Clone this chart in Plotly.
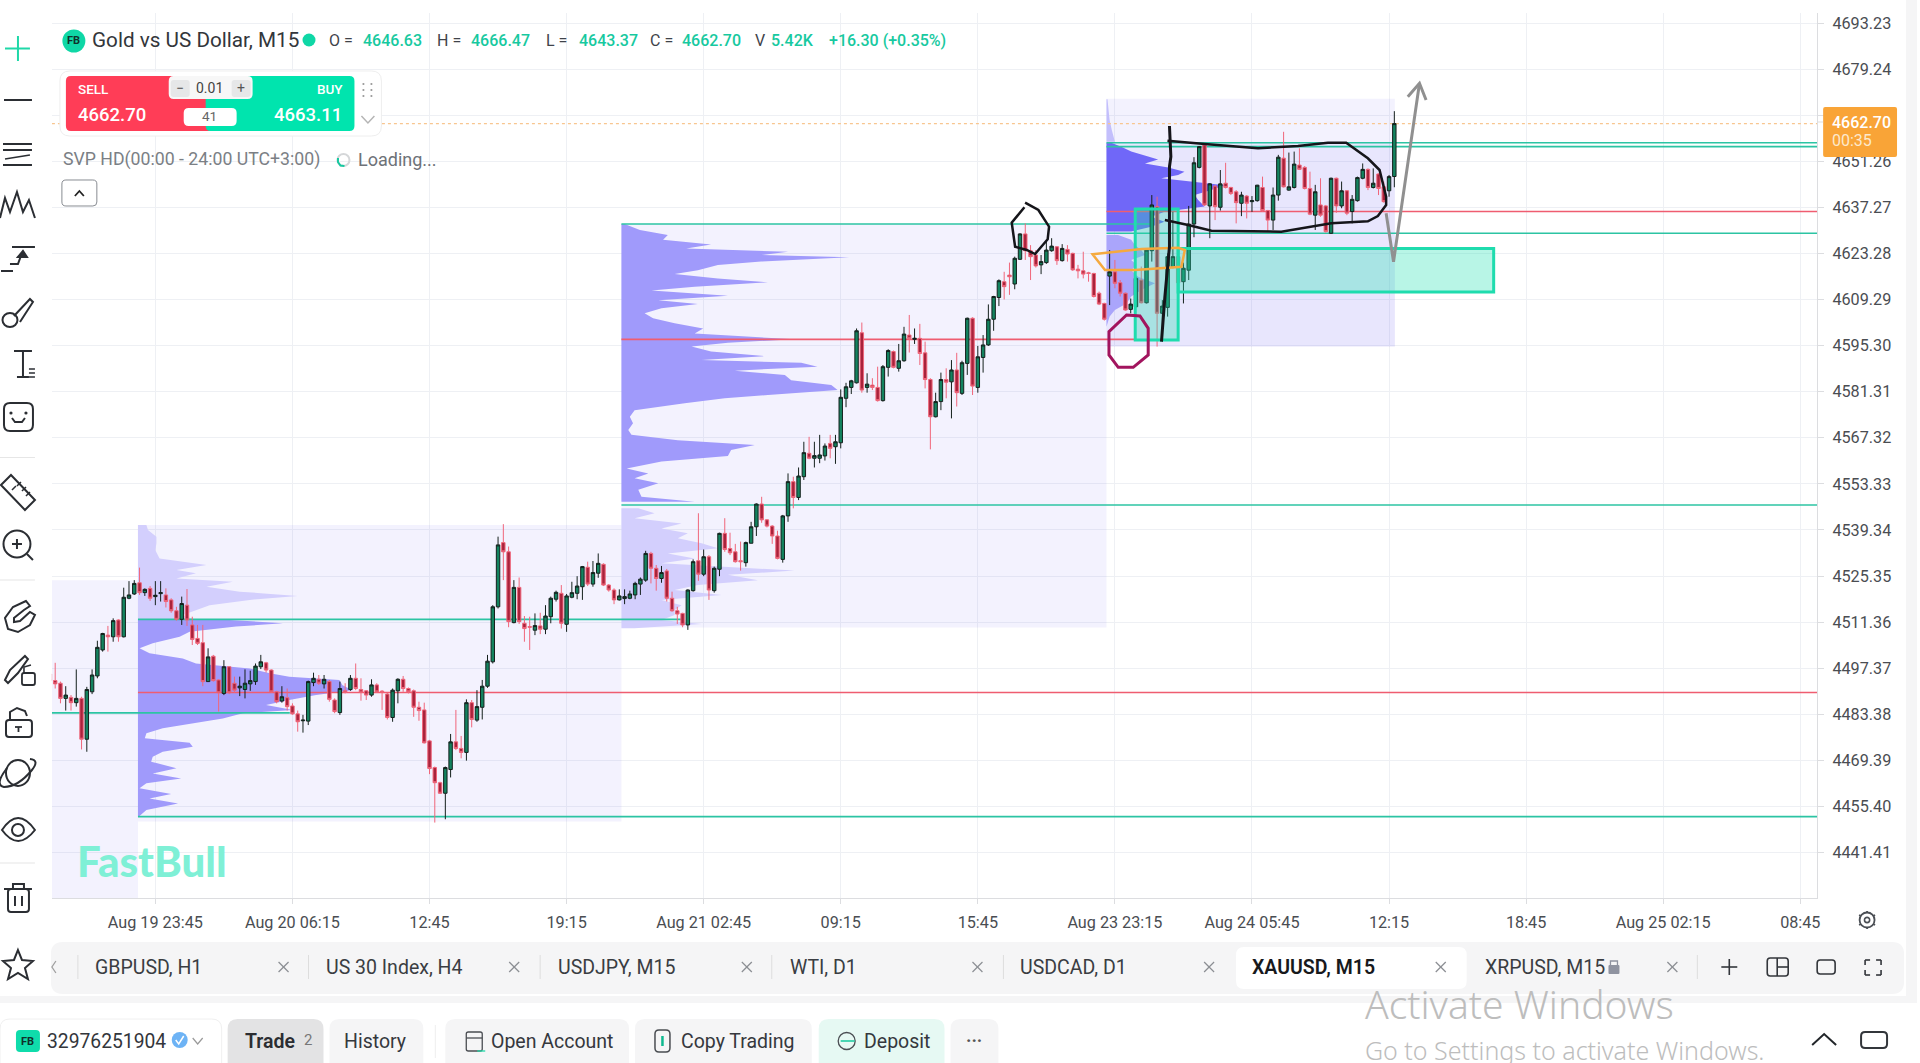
import plotly.graph_objects as go

W = 1920
H = 1063

# plot box in page pixels
PLOT_L, PLOT_R, PLOT_T, PLOT_B = 52, 1820, 13, 898

opens = [
    4495.6,4493.6,4492.8,4488.2,4488.5,4486.9,4488.2,4475.8,4490.2,4495.0,
    4502.9,4507.4,4506.9,4512.0,4506.9,4518.6,4519.9,4523.3,4520.3,4521.6,
    4519.1,4520.0,4519.6,4518.1,4514.8,4512.2,4516.5,4510.5,4506.4,4505.1,
    4493.3,4501.0,4493.8,4489.7,4497.8,4492.8,4491.4,4490.9,4492.6,4493.3,
    4497.8,4499.0,4496.8,4490.2,4487.4,4488.4,4485.9,4483.5,4481.4,4481.3,
    4493.0,4494.0,4492.6,4493.3,4487.7,4483.9,4490.5,4490.9,4494.3,4490.9,
    4490.5,4489.2,4492.3,4490.4,4489.5,4482.4,4490.5,4494.0,4491.2,4490.5,
    4485.5,4484.7,4475.3,4467.2,4462.6,4459.4,4466.6,4475.0,4473.0,4471.8,
    4486.9,4481.6,4485.5,4491.9,4499.3,4516.0,4535.5,4532.7,4511.2,4521.9,
    4511.0,4510.0,4508.9,4510.2,4509.2,4513.0,4518.3,4520.1,4510.7,4518.9,
    4520.1,4522.1,4528.0,4522.9,4526.2,4528.9,4522.6,4521.1,4518.1,4518.5,
    4518.6,4519.6,4522.9,4524.1,4532.2,4527.7,4524.6,4526.9,4518.6,4514.8,
    4514.0,4510.5,4520.9,4530.0,4525.9,4531.2,4520.9,4527.4,4538.3,4533.7,
    4532.7,4530.0,4529.4,4535.3,4540.3,4547.2,4542.4,4540.5,4537.5,4530.4,
    4543.6,4554.0,4549.2,4555.5,4562.6,4561.1,4561.1,4561.8,4565.6,4564.6,
    4565.8,4579.3,4582.6,4584.0,4599.2,4582.6,4583.3,4582.6,4578.6,4588.7,
    4593.5,4588.4,4590.7,4598.5,4597.2,4597.5,4593.1,4585.0,4573.7,4578.3,
    4585.0,4584.3,4587.9,4580.8,4589.9,4603.6,4582.6,4591.7,4595.5,4603.3,
    4609.9,4614.7,4616.7,4614.0,4621.5,4629.2,4624.1,4622.8,4619.8,4620.5,
    4624.1,4625.3,4621.1,4624.5,4623.3,4618.5,4618.0,4617.4,4617.2,4611.2,
    4608.1,4616.4,4617.7,4614.4,4611.2,4606.3,4607.1,4615.2,4608.3,4624.1,
    4637.5,4605.1,4606.9,4619.3,4622.3,4614.7,4618.2,4632.2,4649.4,4656.2,
    4637.7,4643.7,4637.3,4644.6,4643.3,4642.0,4638.5,4640.7,4639.0,4639.3,
    4643.3,4636.3,4633.4,4641.0,4652.2,4642.5,4643.3,4650.1,4649.4,4643.0,
    4634.9,4638.0,4637.7,4629.4,4646.1,4637.7,4642.3,4636.0,4639.3,4646.1,
    4648.8,4643.3,4647.4,4643.5,4642.3,4646.63,
]
highs = [
    4497.8,4499.0,4493.3,4491.9,4489.2,4497.0,4488.7,4491.7,4497.0,4505.7,
    4508.1,4510.2,4512.5,4512.2,4521.8,4523.8,4524.1,4527.9,4521.6,4522.3,
    4523.8,4523.8,4521.6,4518.6,4516.0,4519.1,4521.4,4513.0,4510.5,4510.5,
    4503.4,4501.4,4494.0,4499.8,4498.0,4494.8,4494.8,4497.0,4496.6,4498.8,
    4501.4,4499.3,4497.0,4490.5,4491.9,4491.2,4486.7,4484.5,4483.2,4493.6,
    4496.0,4495.3,4495.3,4493.8,4488.2,4493.3,4492.8,4495.3,4498.8,4494.3,
    4490.7,4494.0,4492.8,4490.7,4489.9,4491.2,4494.3,4495.0,4491.5,4490.9,
    4487.2,4486.9,4475.6,4467.5,4462.9,4467.5,4477.4,4484.7,4476.8,4487.9,
    4487.7,4490.7,4493.8,4501.4,4516.5,4537.3,4541.1,4534.3,4524.1,4524.9,
    4513.2,4513.0,4514.0,4514.2,4516.5,4519.1,4520.9,4522.6,4519.9,4523.6,
    4525.3,4528.4,4529.7,4529.9,4532.2,4529.2,4522.9,4521.6,4521.3,4521.3,
    4520.9,4523.6,4524.9,4533.0,4532.7,4528.7,4528.4,4527.5,4520.6,4516.0,
    4514.2,4521.3,4530.4,4544.4,4533.4,4531.7,4528.2,4538.5,4542.9,4538.5,
    4535.1,4535.8,4535.8,4541.8,4547.4,4549.4,4542.6,4540.8,4539.1,4543.9,
    4556.5,4555.5,4558.3,4566.1,4567.6,4566.1,4568.2,4565.6,4568.2,4568.2,
    4582.0,4584.0,4584.9,4600.5,4602.3,4586.9,4585.4,4588.9,4589.4,4594.2,
    4593.8,4595.8,4601.0,4604.6,4600.5,4601.9,4596.5,4585.4,4581.0,4587.1,
    4588.4,4590.9,4593.1,4590.7,4603.8,4603.9,4595.2,4598.5,4607.8,4610.4,
    4615.4,4617.7,4620.5,4622.3,4629.4,4632.4,4625.8,4624.3,4622.8,4626.8,
    4627.9,4625.5,4626.1,4625.8,4623.5,4619.8,4623.8,4617.7,4617.4,4611.7,
    4608.3,4624.3,4621.3,4615.2,4611.4,4609.6,4616.2,4619.3,4624.8,4641.0,
    4640.5,4609.1,4623.3,4635.9,4623.3,4620.5,4637.7,4652.5,4655.9,4656.7,
    4644.6,4644.0,4648.6,4650.8,4643.5,4642.5,4642.0,4641.0,4640.7,4644.1,
    4646.6,4636.5,4643.3,4653.2,4660.2,4653.9,4654.2,4655.2,4649.8,4648.1,
    4644.1,4646.1,4638.0,4646.3,4646.3,4645.1,4642.5,4641.0,4646.6,4650.6,
    4649.1,4649.1,4647.6,4645.1,4647.1,4666.47,
]
lows = [
    4493.3,4491.2,4486.7,4484.5,4484.5,4485.7,4472.7,4472.0,4489.5,4494.3,
    4502.4,4502.4,4505.4,4505.4,4506.7,4518.3,4519.6,4519.6,4519.3,4517.8,
    4516.5,4517.6,4515.8,4514.2,4511.8,4510.5,4510.2,4504.4,4504.4,4491.9,
    4493.3,4493.3,4484.2,4489.2,4489.5,4489.9,4488.9,4488.2,4490.5,4492.3,
    4497.1,4496.0,4489.9,4486.7,4486.9,4484.5,4483.2,4478.1,4477.8,4480.1,
    4491.9,4492.3,4491.2,4487.2,4483.7,4483.2,4489.7,4490.5,4490.7,4487.5,
    4487.7,4488.7,4489.9,4484.7,4481.8,4481.1,4486.7,4490.2,4489.7,4482.6,
    4481.4,4474.5,4465.2,4450.5,4459.2,4451.5,4464.2,4472.5,4470.0,4469.3,
    4479.4,4481.1,4481.8,4491.4,4498.8,4515.5,4524.1,4509.8,4511.0,4510.8,
    4505.4,4502.9,4507.4,4507.7,4507.7,4511.0,4517.6,4509.4,4508.4,4518.6,
    4518.3,4518.1,4522.3,4522.1,4524.8,4522.3,4520.6,4516.8,4517.9,4516.8,
    4518.3,4518.3,4519.6,4523.6,4523.1,4520.9,4523.3,4517.6,4514.5,4510.8,
    4509.8,4509.0,4520.6,4523.9,4525.3,4518.1,4520.3,4525.3,4532.7,4531.7,
    4529.4,4527.0,4528.2,4535.3,4537.5,4541.5,4540.1,4535.1,4530.4,4529.4,
    4541.8,4545.9,4548.4,4554.5,4560.8,4558.3,4559.6,4560.4,4561.1,4559.4,
    4564.1,4576.6,4580.6,4583.8,4581.0,4581.0,4581.8,4578.3,4578.3,4585.9,
    4588.4,4587.4,4590.4,4593.2,4595.8,4589.4,4582.3,4563.8,4573.5,4575.7,
    4579.3,4573.2,4576.8,4580.3,4586.4,4580.3,4581.0,4587.1,4595.2,4599.8,
    4607.3,4609.3,4610.7,4612.4,4621.3,4621.3,4615.2,4619.0,4617.0,4620.1,
    4623.8,4619.8,4620.8,4620.8,4618.0,4615.7,4615.7,4614.7,4609.9,4607.6,
    4602.9,4607.6,4612.7,4610.2,4605.9,4605.1,4606.9,4608.1,4608.1,4620.8,
    4595.0,4596.5,4604.1,4618.8,4612.2,4608.1,4615.2,4628.2,4649.1,4637.7,
    4627.9,4633.4,4636.3,4643.0,4641.0,4632.4,4634.6,4633.9,4635.9,4639.0,
    4635.9,4629.9,4630.4,4639.3,4643.3,4642.3,4643.0,4648.6,4642.7,4634.9,
    4630.4,4634.4,4629.6,4629.2,4635.6,4637.0,4634.9,4632.4,4639.0,4645.8,
    4642.5,4643.0,4641.0,4638.7,4640.5,4643.37,
]
closes = [
    4493.6,4492.6,4488.2,4489.2,4486.9,4488.2,4475.8,4490.9,4495.3,4503.7,
    4507.9,4506.9,4511.8,4506.9,4518.9,4519.6,4523.1,4520.3,4521.3,4518.6,
    4519.5,4520.3,4517.6,4514.8,4512.2,4517.0,4512.0,4506.1,4504.9,4493.3,
    4500.8,4493.6,4489.9,4497.8,4489.9,4490.7,4491.9,4492.8,4493.6,4498.0,
    4499.3,4496.8,4490.2,4487.2,4488.7,4485.7,4483.5,4481.1,4481.6,4493.3,
    4494.3,4492.8,4494.0,4487.9,4484.2,4491.2,4490.1,4494.3,4491.2,4490.1,
    4489.2,4492.3,4490.2,4490.2,4482.4,4490.7,4494.0,4491.2,4490.2,4485.5,
    4484.5,4474.7,4466.9,4462.6,4459.4,4467.2,4475.0,4473.0,4471.8,4486.9,
    4481.8,4485.7,4491.9,4499.5,4516.0,4534.8,4532.7,4511.5,4521.9,4511.5,
    4509.4,4509.8,4510.3,4509.2,4513.2,4518.6,4520.4,4511.0,4519.3,4520.3,
    4522.3,4528.2,4522.9,4526.4,4529.2,4522.6,4521.1,4518.1,4519.3,4519.1,
    4519.9,4523.1,4524.4,4532.2,4527.7,4524.6,4526.4,4518.6,4514.8,4513.8,
    4510.5,4521.1,4529.7,4525.9,4531.2,4521.1,4527.7,4538.3,4533.4,4532.4,
    4529.7,4529.7,4535.5,4540.3,4547.2,4542.4,4540.5,4537.5,4530.7,4543.6,
    4554.0,4549.2,4555.7,4562.8,4561.1,4561.9,4562.1,4564.8,4564.1,4566.1,
    4579.6,4582.8,4584.6,4599.8,4581.8,4583.6,4582.6,4578.6,4588.9,4593.8,
    4588.7,4590.7,4598.8,4597.5,4597.5,4592.9,4585.0,4573.7,4578.3,4585.0,
    4584.2,4587.9,4581.0,4590.1,4603.6,4583.0,4591.9,4595.5,4603.3,4610.2,
    4615.0,4613.2,4616.2,4621.8,4629.2,4624.1,4622.3,4619.5,4620.8,4624.3,
    4625.5,4621.1,4624.8,4623.1,4618.3,4618.0,4617.0,4617.2,4610.2,4607.9,
    4603.3,4617.7,4614.2,4611.2,4606.1,4607.9,4615.7,4608.3,4624.3,4638.0,
    4605.1,4607.3,4622.3,4622.3,4614.4,4618.8,4632.2,4650.8,4655.7,4638.0,
    4644.4,4637.5,4644.4,4643.3,4641.5,4638.7,4641.0,4638.5,4639.3,4644.0,
    4636.3,4633.4,4641.0,4652.5,4643.5,4643.5,4650.4,4648.8,4643.0,4635.2,
    4642.0,4634.9,4629.9,4646.1,4637.7,4642.3,4635.5,4639.7,4646.3,4648.8,
    4643.3,4644.6,4643.0,4639.0,4646.6,4662.70,
]

y_ticks = [4693.23,4679.24,4665.25,4651.26,4637.27,4623.28,4609.29,4595.30,4581.31,
           4567.32,4553.33,4539.34,4525.35,4511.36,4497.37,4483.38,4469.39,4455.40,4441.41]
x_tick_pos = [20,46,72,98,124,150,176,202,228,254,280,306,332]
x_tick_labels = ["Aug 19 23:45","Aug 20 06:15","12:45","19:15","Aug 21 02:45","09:15","15:45",
                 "Aug 23 23:15","Aug 24 05:45","12:15","18:45","Aug 25 02:15","08:45"]

# volume profiles, price / width in candle units
s1_hi_p = [4540.8,4539.3,4537.3,4535.3,4533.2,4530.7,4528.7,4527.2,4526.2,4524.6,4523.6,4522.1,4520.6,4519.3,4518.1,4516.5,4515.0,4513.5,4512.3]
s1_hi_v = [1.6,1.9,3.5,3.5,3.3,4.1,13.0,7.3,11.0,7.3,18.0,13.0,19.3,30.3,21.2,13.6,11.0,8.5,10.4]
s1_va_p = [4512.0,4511.0,4510.0,4508.4,4506.9,4504.9,4503.4,4501.9,4500.3,4498.8,4497.3,4495.8,4494.8,4493.8,4492.2,4490.7,4489.2,4487.7,4486.2,4484.7,4483.7,4482.1,4480.6,4479.1,4477.6,4476.1,4474.7,4473.5,4472.0,4470.5,4469.0,4467.0,4465.4,4463.9,4462.4,4460.9,4459.2,4457.8,4456.3,4454.3,4452.5]
s1_va_v = [17.4,27.5,18.6,9.8,7.9,2.8,0.3,2.2,8.5,11.0,21.2,25.0,28.7,38.2,38.8,40.7,33.8,28.7,24.3,29.4,19.9,16.1,10.4,4.7,1.6,1.3,9.8,10.4,4.7,2.8,2.5,7.3,2.8,8.2,1.6,0.3,6.3,2.2,7.6,1.6,0.3]
s2_va_p = [4632.2,4630.4,4628.9,4627.4,4626.0,4624.8,4623.8,4622.8,4622.1,4620.8,4619.8,4618.2,4617.0,4615.7,4614.5,4613.2,4612.0,4610.4,4609.1,4607.9,4606.6,4605.1,4603.6,4602.1,4600.5,4599.0,4598.0,4597.2,4596.2,4595.0,4593.5,4592.1,4590.9,4590.1,4588.9,4587.7,4586.4,4584.8,4583.3,4581.8,4580.3,4579.3,4577.8,4575.7,4573.7,4571.7,4569.7,4568.2,4566.6,4565.1,4563.6,4561.8,4560.1,4558.0,4556.5,4555.0,4553.5,4551.5,4549.4,4547.9]
s2_va_v = [0.6,3.5,8.8,7.9,17.0,12.3,31.6,26.5,43.2,26.5,18.3,14.5,10.1,18.3,27.8,13.9,5.7,20.2,7.0,14.5,7.6,4.4,6.0,10.1,15.5,13.9,24.6,32.8,20.2,13.3,17.0,27.1,15.2,34.1,37.2,21.5,31.0,32.2,39.8,41.0,27.8,19.6,12.0,2.5,1.6,2.2,1.3,1.9,10.7,25.3,20.8,20.2,7.6,1.0,5.1,2.5,7.0,3.2,3.8,13.9]
s2_lo_p = [4545.9,4544.4,4542.9,4541.3,4539.8,4538.3,4536.8,4535.3,4533.8,4532.2,4530.7,4529.2,4527.0,4525.7,4524.1,4522.6,4521.1,4519.6,4518.1,4516.5,4515.0,4513.5,4512.0,4510.8,4509.5]
s2_lo_v = [3.2,6.3,2.5,11.4,7.6,12.6,10.7,15.2,18.3,8.8,13.9,7.6,32.8,20.2,25.9,14.5,10.1,19.0,7.6,11.4,10.1,10.1,7.6,15.2,2.5]
s3_hi_p = [4670.1,4666.8,4663.8,4660.8,4658.7,4657.2]
s3_hi_v = [0.2,0.4,0.6,1.0,1.3,1.6]
s3_va_p = [4656.9,4655.7,4654.2,4652.7,4651.8,4650.6,4649.4,4648.1,4647.1,4646.1,4645.1,4644.0,4642.5,4641.0,4639.5,4637.5,4635.9,4634.4,4632.9,4631.4,4629.9]
s3_va_v = [0.9,2.8,4.7,7.9,9.8,7.3,11.7,14.8,13.6,10.4,16.7,22.4,19.9,16.7,17.4,18.6,11.0,8.5,11.0,8.5,4.7]
s3_lo_p = [4628.9,4627.4,4625.8,4624.3,4622.8,4621.3,4619.8,4618.2,4616.2,4614.2,4612.2,4610.2,4608.1,4606.1,4604.1,4601.0]
s3_lo_v = [2.2,4.7,5.4,6.6,7.3,4.7,5.7,4.7,6.0,9.2,6.6,4.7,3.8,1.6,0.6,0.0]

# session boxes: start, end, top price, bottom price
sessions = [
    (0.38, 16.7, 4524.1, 4427.6),
    (16.7, 108.4, 4540.8, 4450.8),
    (108.4, 200.4, 4632.2, 4509.7),
    (200.4, 255.1, 4670.2, 4595.0),
    (200.4, 255.1, 4657.0, 4595.0),
]

# levels: price, start, end, colour
GREEN_LVL = "#2cc4a3"
RED_LVL = "#ef5d70"
levels = [
    (4483.8, 0.38, 45.5, GREEN_LVL),
    (4512.2, 16.7, 120, GREEN_LVL),
    (4490.0, 16.7, 335.2, RED_LVL),
    (4452.3, 16.7, 335.2, GREEN_LVL),
    (4632.2, 108.4, 209, GREEN_LVL),
    (4597.2, 108.4, 206, RED_LVL),
    (4546.9, 108.4, 335.2, GREEN_LVL),
    (4656.9, 200.4, 335.2, GREEN_LVL),
    (4655.7, 200.4, 335.2, GREEN_LVL),
    (4636.0, 200.4, 335.2, RED_LVL),
    (4629.4, 200.4, 335.2, GREEN_LVL),
]

last_price = 4662.70

X_RANGE = [0.38, 335.2]
Y_RANGE = [4427.6, 4696.27]

shapes = []
notes = []


def fx(x):
    return x / W


def fy(y):
    return 1 - y / H


def line(pts, color="#333", width=2, closed=False, fill=None):
    d = "M " + " L ".join(f"{fx(x):.5f},{fy(y):.5f}" for x, y in pts)
    if closed:
        d += " Z"
    shapes.append(dict(type="path", path=d, xref="paper", yref="paper",
                       line=dict(color=color, width=width),
                       fillcolor=fill if fill else "rgba(0,0,0,0)"))


def box(x0, y0, x1, y1, fill=None, color=None, width=1, r=0):
    # rounded rectangle, r in pixels
    if r == 0:
        d = f"M {fx(x0):.5f},{fy(y0):.5f} L {fx(x1):.5f},{fy(y0):.5f} L {fx(x1):.5f},{fy(y1):.5f} L {fx(x0):.5f},{fy(y1):.5f} Z"
    else:
        corners = [(x0 + r, y0), (x1 - r, y0), (x1, y0), (x1, y0 + r), (x1, y1 - r), (x1, y1),
                   (x1 - r, y1), (x0 + r, y1), (x0, y1), (x0, y1 - r), (x0, y0 + r), (x0, y0), (x0 + r, y0)]
        p = [f"{fx(a):.5f},{fy(b):.5f}" for a, b in corners]
        d = f"M {p[0]} L {p[1]} Q {p[2]} {p[3]} L {p[4]} Q {p[5]} {p[6]} L {p[7]} Q {p[8]} {p[9]} L {p[10]} Q {p[11]} {p[12]} Z"
    shapes.append(dict(type="path", path=d, xref="paper", yref="paper",
                       line=dict(color=color if color else "rgba(0,0,0,0)", width=width if color else 0),
                       fillcolor=fill if fill else "rgba(0,0,0,0)"))


def oval(cx, cy, rx, ry, fill=None, color=None, width=2):
    shapes.append(dict(type="circle", xref="paper", yref="paper",
                       x0=fx(cx - rx), x1=fx(cx + rx), y0=fy(cy + ry), y1=fy(cy - ry),
                       line=dict(color=color if color else "rgba(0,0,0,0)", width=width if color else 0),
                       fillcolor=fill if fill else "rgba(0,0,0,0)"))


def label(x, y, text, size=16, color="#333", anchor="left", family="Roboto", weight=400):
    notes.append(dict(x=fx(x), y=fy(y), xref="paper", yref="paper", text=text, showarrow=False,
                      xanchor=anchor, yanchor="middle", borderpad=0,
                      font=dict(family=family, size=size, color=color, weight=weight)))


def profile(name, start, prices, widths, color):
    xs = [start] + [start + w for w in widths] + [start]
    ys = [prices[0]] + prices + [prices[-1]]
    return go.Scatter(x=xs, y=ys, mode="lines", fill="toself", fillcolor=color,
                      line=dict(width=0, color=color), hoverinfo="skip", name=name)


fig = go.Figure()

fig.add_trace(profile("s1 high", 16.7, s1_hi_p, s1_hi_v, "#d3cffd"))
fig.add_trace(profile("s1 value", 16.7, s1_va_p, s1_va_v, "#a09afb"))
fig.add_trace(profile("s2 value", 108.4, s2_va_p, s2_va_v, "#a09afb"))
fig.add_trace(profile("s2 low", 108.4, s2_lo_p, s2_lo_v, "#d3cffd"))
fig.add_trace(profile("s3 high", 200.4, s3_hi_p, s3_hi_v, "#c3bffc"))
fig.add_trace(profile("s3 value", 200.4, s3_va_p, s3_va_v, "#7067f8"))
fig.add_trace(profile("s3 low", 200.4, s3_lo_p, s3_lo_v, "#aaa5fb"))

for price, start, end, colour in levels:
    fig.add_trace(go.Scatter(x=[start, end], y=[price, price], mode="lines",
                             line=dict(color=colour, width=1.6), hoverinfo="skip"))

fig.add_trace(go.Scatter(x=X_RANGE, y=[last_price, last_price], mode="lines",
                         line=dict(color="#f8c690", width=1.2, dash="dot"), hoverinfo="skip"))

# candles on an overlaid axis pair, otherwise scatter fills cover them
fig.add_trace(go.Candlestick(
    x=list(range(len(opens))), open=opens, high=highs, low=lows, close=closes,
    xaxis="x2", yaxis="y2", whiskerwidth=0,
    increasing=dict(line=dict(color="#14201c", width=1), fillcolor="#13835f"),
    decreasing=dict(line=dict(color="#f0667a", width=1), fillcolor="#a8233c"),
))

# session boxes go under the traces
for i, (x0, x1, top, bottom) in enumerate(sessions):
    shapes.append(dict(type="rect", xref="x", yref="y", x0=x0, x1=x1, y0=bottom, y1=top,
                       layer="between", line=dict(width=0), fillcolor="rgba(115,105,245,0.085)"))

# hand drawn stuff on the chart
box(1137, 209, 1180, 340, fill="rgba(40,220,175,0.33)", color="#1fdcae", width=3)
box(1180, 248.5, 1496, 292, fill="rgba(40,225,180,0.33)", color="#1fdcae", width=3)
line([(1094.3, 254.3), (1143.3, 249), (1180, 247.7), (1186.7, 250), (1183.3, 266.7), (1136.7, 270), (1106.7, 270)],
     color="#f5a93f", width=2.5, closed=True)
line([(1026.7, 202.7), (1040, 210), (1050.7, 226.7), (1049.3, 239.3), (1036.7, 254), (1028.3, 250),
      (1016.7, 246.7), (1013.3, 222.7), (1026, 207.3)], color="#15151a", width=2.5)
line([(1128.3, 315), (1141.7, 316), (1150, 328.3), (1150, 355), (1135, 367.3), (1120, 367.3),
      (1110.7, 355), (1110.7, 331.7)], color="#a2145e", width=3, closed=True)
line([(1169.3, 140.7), (1206.7, 144), (1260, 148.3), (1300, 146), (1330, 142.7), (1348.3, 142.7), (1370, 158.3),
      (1381.7, 170), (1388.3, 196.7), (1388.3, 205), (1380, 216), (1370, 221.3), (1333.3, 223.3), (1283.3, 231.7),
      (1213.3, 230.7), (1190, 225), (1166.7, 220)], color="#15151a", width=2.5)
line([(1171.3, 126), (1172.7, 156.7), (1171.3, 166.7), (1171.3, 246.7), (1166.7, 296.7), (1163.3, 341.7)],
     color="#15151a", width=3)
line([(1388.3, 213.3), (1395.7, 261.7), (1421.7, 83.3)], color="#909090", width=3)
line([(1410, 96.7), (1421.7, 83.3), (1428.3, 100)], color="#909090", width=3)

label(76, 861, "FastBull", size=42, color="#7ff0d6", family="Lato", weight=900)

# price tag
box(1826, 107, 1900, 157, fill="#f9a437", r=2)
label(1834, 122, "4662.70", size=16, color="#ffffff", weight=500)
label(1834, 140, "00:35", size=16, color="#fde9cd")
line([(1820, 122), (1826, 122)], color="#dddddd", width=1)

# header line
INK = "#3f434a"
TEAL = "#17c9a0"
oval(74, 41, 11.5, 11.5, fill="#0fd7a6")
label(74, 41, "FB", size=11, color="#10302a", anchor="center", weight=700)
label(91, 40, "Gold vs US Dollar, M15", size=20.7, color="#33363b")
oval(309.5, 40, 6.5, 6.5, fill="#0fd7a6")
for x, key, vx, val in [(329, "O =", 363, "4646.63"), (437, "H =", 471, "4666.47"),
                        (546, "L =", 579, "4643.37"), (650, "C =", 682, "4662.70")]:
    label(x, 41, key, size=16, color=INK)
    label(vx, 41, val, size=16, color=TEAL, weight=500)
label(755, 41, "V", size=16, color=INK)
label(771, 41, "5.42K", size=16, color=TEAL, weight=500)
label(829, 41, "+16.30 (+0.35%)", size=16, color=TEAL, weight=500)

# trade widget
box(60, 71, 382, 136, fill="#ffffff", color="#eeeeee", width=1, r=10)
box(66, 76, 214, 131, fill="#ff3d57", r=5)
box(206, 76, 355, 131, fill="#00e4ae", r=5)
box(169, 76, 253, 99, fill="#f7f7f7", r=5)
box(171, 80, 190, 97, fill="#e6e7e8", r=3)
box(232, 80, 251, 97, fill="#e6e7e8", r=3)
box(184, 108, 237, 126, fill="#ffffff", r=5)
label(77, 89, "SELL", size=13.5, color="#ffffff", weight=500)
label(345, 89, "BUY", size=13.5, color="#ffffff", anchor="right", weight=500)
label(77, 115, "4662.70", size=18.5, color="#ffffff", weight=500)
label(344, 115, "4663.11", size=18.5, color="#ffffff", anchor="right", weight=500)
label(210, 88, "0.01", size=14, color="#444444", anchor="center")
label(180.5, 88, "−", size=14, color="#555555", anchor="center")
label(241, 88, "+", size=14, color="#555555", anchor="center")
label(210, 116, "41", size=13.5, color="#666666", anchor="center")
for dx in (364, 372):
    for dy in (84, 90, 96):
        oval(dx, dy, 1.1, 1.1, fill="#9a9a9a")
line([(362, 116), (368.5, 123), (375, 116)], color="#b5b5b5", width=1.5)

label(62, 160, "SVP HD(00:00 - 24:00 UTC+3:00)", size=17.7, color="#7b7f85")
oval(344, 160, 6, 6, color="#d5d7d9", width=2)
line([(338.5, 158), (338.5, 162), (341, 165.5), (345, 166)], color="#17c9a0", width=2)
label(358, 160, "Loading...", size=18, color="#6e7278")
box(62, 180, 97, 206, fill="#ffffff", color="#888c92", width=1, r=4)
line([(75, 196), (79.5, 191), (84, 196)], color="#222222", width=1.8)

# left tool bar
TOOL = "#2b2e33"
line([(18, 36), (18, 61)], color="#1fd8a8", width=2)
line([(5, 48.5), (30, 48.5)], color="#1fd8a8", width=2)
line([(4, 100), (32, 100)], color=TOOL, width=2)
for yy in (144, 150, 165):
    line([(3, yy), (32, yy)], color=TOOL, width=2)
line([(5, 159), (30, 155)], color=TOOL, width=1.5)
line([(0, 218), (5, 198), (10, 212), (17, 192), (23, 212), (29, 200), (35, 218)], color=TOOL, width=2)
line([(12, 247), (35, 247)], color=TOOL, width=2)
line([(1, 271), (13, 271)], color=TOOL, width=2)
line([(10, 264), (18, 264), (22, 253)], color=TOOL, width=2)
line([(18, 257), (23, 251), (27, 257)], color=TOOL, width=2, closed=True, fill=TOOL)
line([(14, 316), (30, 299), (33, 302), (20, 322)], color=TOOL, width=2)
oval(10, 320, 7.5, 7, color=TOOL, width=2)
line([(14, 351), (32, 351)], color=TOOL, width=2)
line([(23, 351), (23, 377)], color=TOOL, width=2)
line([(17, 377), (29, 377)], color=TOOL, width=2)
for yy in (369, 373, 377):
    line([(29, yy), (35, yy)], color=TOOL, width=1.5)
box(4, 403, 33, 431, color=TOOL, width=2, r=6)
line([(12, 418), (15, 422), (22, 422), (25, 418)], color=TOOL, width=2)
oval(11, 413, 1.6, 1.6, fill=TOOL)
oval(26, 413, 1.6, 1.6, fill=TOOL)
line([(0, 457.5), (35, 457.5)], color="#e6e6e6", width=1.2)
line([(1, 485), (11, 475), (35, 500), (25, 510)], color=TOOL, width=2, closed=True)
for xx, yy in [(12, 490), (17, 486), (22, 491), (26, 496)]:
    line([(xx, yy), (xx + 4, yy - 4)], color=TOOL, width=1.5)
oval(17, 544, 13.5, 13.5, color=TOOL, width=2)
line([(27, 554), (33, 560)], color=TOOL, width=2)
line([(12, 544), (22, 544)], color=TOOL, width=2)
line([(17, 539), (17, 549)], color=TOOL, width=2)
line([(0, 580), (35, 580)], color="#e6e6e6", width=1.2)
line([(26, 601), (13, 607), (5, 618), (8, 629), (18, 632), (30, 625), (35, 615), (30, 612), (20, 621),
      (14, 622), (14, 618), (24, 610), (30, 606)], color=TOOL, width=2, closed=True)
line([(5, 680), (10, 670), (25, 656), (28, 659), (18, 673), (8, 683)], color=TOOL, width=2, closed=True)
box(22, 673, 35, 685, color=TOOL, width=1.8, r=2)
line([(24, 673), (24, 667), (31, 665)], color=TOOL, width=1.6)
box(6, 720, 32, 737, color=TOOL, width=2, r=3)
line([(10, 720), (10, 712), (17, 708), (25, 711), (27, 716)], color=TOOL, width=2)
line([(15, 727), (22, 727)], color=TOOL, width=1.8)
line([(18.5, 727), (18.5, 732)], color=TOOL, width=1.8)
oval(18, 773, 12, 13, color=TOOL, width=2)
shapes.append(dict(type="path", xref="paper", yref="paper", line=dict(color=TOOL, width=2),
                   path=(f"M {fx(7):.5f},{fy(768):.5f} Q {fx(-6):.5f},{fy(785):.5f} {fx(4):.5f},{fy(787):.5f} "
                         f"Q {fx(18):.5f},{fy(787):.5f} {fx(32):.5f},{fy(770):.5f} "
                         f"Q {fx(40):.5f},{fy(760):.5f} {fx(30):.5f},{fy(759):.5f}")))
shapes.append(dict(type="path", xref="paper", yref="paper", line=dict(color=TOOL, width=2),
                   path=f"M {fx(2):.5f},{fy(830):.5f} Q {fx(18):.5f},{fy(806):.5f} {fx(35):.5f},{fy(830):.5f} Q {fx(18):.5f},{fy(852):.5f} {fx(2):.5f},{fy(830):.5f} Z"))
oval(18, 830, 6, 6, color=TOOL, width=2)
line([(0, 863), (35, 863)], color="#e6e6e6", width=1.2)
box(8, 889, 29, 912, color=TOOL, width=2, r=3)
line([(4, 889), (32, 889)], color=TOOL, width=2)
line([(13, 889), (13, 884), (24, 884), (24, 889)], color=TOOL, width=2)
line([(15, 896), (15, 906)], color=TOOL, width=2)
line([(22, 896), (22, 906)], color=TOOL, width=2)
line([(18, 950), (22, 960), (33, 961), (25, 968), (28, 979), (18, 973), (8, 979), (11, 968), (3, 961), (14, 960)],
     color=TOOL, width=2, closed=True)

# gear
oval(1870, 920, 7.5, 7.5, color="#4b4f55", width=1.8)
oval(1870, 920, 2.6, 2.6, color="#4b4f55", width=1.6)
for a, b, c, d in [(1870, 911, 1870, 913), (1870, 927, 1870, 929), (1862, 915, 1864, 916), (1876, 924, 1878, 925),
                   (1862, 925, 1864, 924), (1876, 916, 1878, 915)]:
    line([(a, b), (c, d)], color="#4b4f55", width=1.8)

# right gutter
box(1909, 0, 1920, 1003, fill="#f5f5f6")

# tab strip
box(51, 942, 1907, 994, fill="#f5f5f6", r=12)
box(0, 996, 1920, 1003, fill="#f5f5f6")
box(1238, 947, 1469, 989, fill="#ffffff", r=8)
line([(56, 961), (52, 967), (56, 973)], color="#a0a0a0", width=1.3)
for sx in (78, 309, 541, 773, 1005, 1700):
    line([(sx, 955), (sx, 979)], color="#dddddd", width=1)
TAB_FONT = 19.5
for tx, text, xm in [(94, "GBPUSD, H1", 284), (326, "US 30 Index, H4", 515), (558, "USDJPY, M15", 748),
                     (790, "WTI, D1", 979), (1021, "USDCAD, D1", 1211), (1486, "XRPUSD, M15", 1675)]:
    label(tx, 967, text, size=TAB_FONT, color="#3a3d42")
    line([(xm - 5, 962), (xm + 5, 972)], color="#8b8e93", width=1.2)
    line([(xm - 5, 972), (xm + 5, 962)], color="#8b8e93", width=1.2)
label(1253, 967, "XAUUSD, M15", size=TAB_FONT, color="#17191c", weight=600)
line([(1438, 962), (1448, 972)], color="#8b8e93", width=1.2)
line([(1438, 972), (1448, 962)], color="#8b8e93", width=1.2)
box(1611, 965, 1622, 974, fill="#8f93a0", r=1)
line([(1613, 965), (1613, 961), (1620, 961), (1620, 965)], color="#8f93a0", width=1.3)
line([(1732, 959), (1732, 975)], color="#33363b", width=1.6)
line([(1724, 967), (1740, 967)], color="#33363b", width=1.6)
box(1770, 958, 1791, 976, color="#33363b", width=1.6, r=3)
line([(1780, 958), (1780, 976)], color="#33363b", width=1.6)
line([(1780, 967), (1791, 967)], color="#33363b", width=1.6)
box(1820, 960, 1838, 974, color="#33363b", width=1.6, r=3)
for a, b, c, d in [(1868, 965, 1868, 960), (1868, 960, 1873, 960), (1879, 960, 1884, 960), (1884, 960, 1884, 965),
                   (1884, 970, 1884, 975), (1884, 975, 1879, 975), (1873, 975, 1868, 975), (1868, 975, 1868, 970)]:
    line([(a, b), (c, d)], color="#33363b", width=1.6)

# bottom bar
BTN = "#f5f5f6"
BTN_FONT = 19.5
box(0, 1019, 222, 1075, fill="#ffffff", color="#f0f0f0", width=1, r=10)
box(16, 1030, 40, 1052, fill="#0fdcab", r=4)
label(28, 1041, "FB", size=11, color="#10302a", anchor="center", weight=700)
label(46, 1041, "32976251904", size=19.3, color="#33363b")
oval(180, 1040, 8, 8, fill="#6db3f5")
line([(176, 1040), (179, 1044), (184, 1036)], color="#ffffff", width=1.5)
line([(193, 1038), (198, 1044), (203, 1038)], color="#999999", width=1.2)
box(228, 1019, 324, 1075, fill="#e3e3e4", r=10)
label(244, 1041, "Trade", size=BTN_FONT, color="#2b2d31", weight=600)
label(303, 1040, "2", size=15, color="#777777")
box(330, 1019, 424, 1075, fill=BTN, r=10)
label(376, 1041, "History", size=BTN_FONT, color="#35383d", anchor="center")
line([(436, 1025), (436, 1058)], color="#eeeeee", width=1)
box(446, 1019, 630, 1075, fill=BTN, r=10)
box(467, 1032, 483, 1051, color="#4a4d52", width=1.3, r=2)
line([(467, 1038), (483, 1038)], color="#4a4d52", width=1.3)
line([(478, 1051), (486, 1051)], color="#1fd8a8", width=1.3)
label(491, 1041, "Open Account", size=BTN_FONT, color="#35383d")
box(636, 1019, 813, 1075, fill=BTN, r=10)
box(656, 1030, 671, 1052, color="#4a4d52", width=1.5, r=4)
line([(663.5, 1036), (663.5, 1046)], color="#0fb98f", width=2.5)
label(681, 1041, "Copy Trading", size=BTN_FONT, color="#35383d")
box(820, 1019, 946, 1075, fill="#e6f9f3", r=10)
oval(848, 1041, 8.5, 8.5, color="#4a4d52", width=1.3)
line([(842, 1041), (856, 1041)], color="#16c99d", width=1.5)
label(864, 1041, "Deposit", size=BTN_FONT, color="#35383d")
box(952, 1019, 1000, 1075, fill=BTN, r=10)
label(976, 1040, "···", size=18, color="#555555", anchor="center", weight=700)

label(1366, 1003, "Activate Windows", size=39, color="#bdbdbd", family="Noto Sans", weight=300)
label(1366, 1050, "Go to Settings to activate Windows.", size=25, color="#bdbdbd", family="Noto Sans", weight=300)
line([(1815, 1045), (1827, 1034), (1839, 1045)], color="#22262a", width=2)
box(1864, 1032, 1890, 1048, color="#33363b", width=2, r=4)

x_dom = [PLOT_L / W, PLOT_R / W]
y_dom = [1 - PLOT_B / H, 1 - PLOT_T / H]

fig.update_layout(
    width=W, height=H, autosize=False,
    margin=dict(l=0, r=0, t=0, b=0),
    paper_bgcolor="#ffffff", plot_bgcolor="#ffffff",
    showlegend=False, boxgap=0.35, boxgroupgap=0,
    shapes=shapes, annotations=notes,
    xaxis=dict(domain=x_dom, range=X_RANGE,
               tickmode="array", tickvals=x_tick_pos, ticktext=x_tick_labels,
               showgrid=True, gridcolor="#eef0f4", gridwidth=1, zeroline=False,
               showline=True, linecolor="#dcdde0", ticks="outside", ticklen=5, tickcolor="#dcdde0",
               ticklabelstandoff=5, tickfont=dict(family="Roboto", size=16.2, color="#4a4d52")),
    yaxis=dict(domain=y_dom, range=Y_RANGE, side="right",
               tickmode="array", tickvals=y_ticks, ticktext=[f"{v:.2f}" for v in y_ticks],
               showgrid=True, gridcolor="#eef0f4", gridwidth=1, zeroline=False,
               showline=True, linecolor="#dcdde0", ticks="outside", ticklen=6, tickcolor="#dcdde0",
               ticklabelstandoff=5, tickfont=dict(family="Roboto", size=16.2, color="#4a4d52")),
    xaxis2=dict(domain=x_dom, range=X_RANGE, overlaying="x", anchor="y2", visible=False,
                rangeslider=dict(visible=False)),
    yaxis2=dict(domain=y_dom, range=Y_RANGE, overlaying="y", anchor="x2", visible=False),
)

fig.write_html("out.html", config={"displayModeBar": False},
               post_script="document.body.style.margin='0';document.documentElement.style.overflow='hidden';")
